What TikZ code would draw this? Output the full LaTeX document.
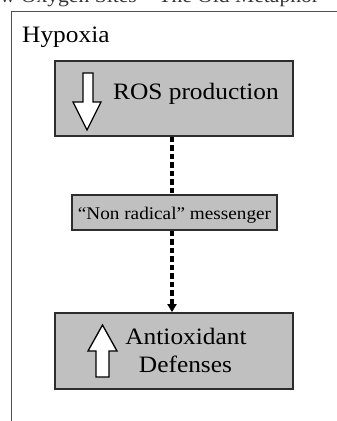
\documentclass[tikz,border=0pt]{standalone}
\usepackage{fontspec}
\setmainfont{Liberation Serif}[FakeStretch=1.08]
\usetikzlibrary{arrows.meta}
\definecolor{boxgray}{RGB}{192,192,192}
\definecolor{edgegray}{RGB}{45,45,45}
\definecolor{framegray}{RGB}{80,80,80}
\tikzset{
  graybox/.style={draw=edgegray, line width=1.8pt, fill=boxgray, rectangle, inner sep=0pt},
  bigtext/.style={font=\fontsize{23.5}{28}\selectfont, text=black, inner sep=0pt, anchor=base},
  smalltext/.style={font=\fontsize{17.8}{21}\selectfont, text=black, inner sep=0pt, anchor=base},
  blockarrow/.style={draw=black, line width=1.3pt, fill=white, line join=miter},
  dashlink/.style={line width=3.6pt, dash pattern=on 5.5pt off 3pt, black}
}
\begin{document}
\begin{tikzpicture}[x=1pt,y=-1pt]
\useasboundingbox (0,0) rectangle (337,421);
\begin{scope}
\clip (0,0) rectangle (337,421);
% cut-off caption at top
\node[font=\fontsize{20}{24}\selectfont, text=black!80, inner sep=0pt, anchor=base west] (cap) at (-11,2.5) {ow Oxygen Sites – The Old Metaphor};
% outer frame
\draw[framegray, line width=1.5pt] (11.5,430) -- (11.5,11.5) -- (345,11.5);
\end{scope}
\node[font=\fontsize{23.5}{28}\selectfont, text=black, inner sep=0pt, anchor=base west] (hyp) at (22,42) {Hypoxia};
% boxes
\node[graybox, minimum width=238pt, minimum height=75pt] (ros) at (174,98.5) {};
\node[graybox, minimum width=205pt, minimum height=35pt] (msg) at (174.5,212.5) {};
\node[graybox, minimum width=238pt, minimum height=76pt] (anti) at (174,351) {};
% texts
\node[bigtext] (rost) at (196,99) {ROS production};
\node[smalltext] (msgt) at (174.5,219.5) {“Non radical” messenger};
\node[bigtext] (antit1) at (186,344) {Antioxidant};
\node[bigtext] (antit2) at (185.5,372) {Defenses};
% block arrows
\draw[blockarrow] (83,73) -- (93,73) -- (93,102) -- (101,102) -- (87,130) -- (73,102) -- (83,102) -- cycle;
\draw[blockarrow] (96,377) -- (109,377) -- (109,351) -- (117,351) -- (102.5,325) -- (88,351) -- (96,351) -- cycle;
% dashed connectors
\draw[dashlink] ([xshift=-2pt]ros.south) -- ([xshift=-2.5pt]msg.north);
\draw[dashlink, -{Triangle[width=9pt,length=8pt]}] ([xshift=-2.5pt]msg.south) -- ([xshift=-2pt]anti.north);
\end{tikzpicture}
\end{document}
